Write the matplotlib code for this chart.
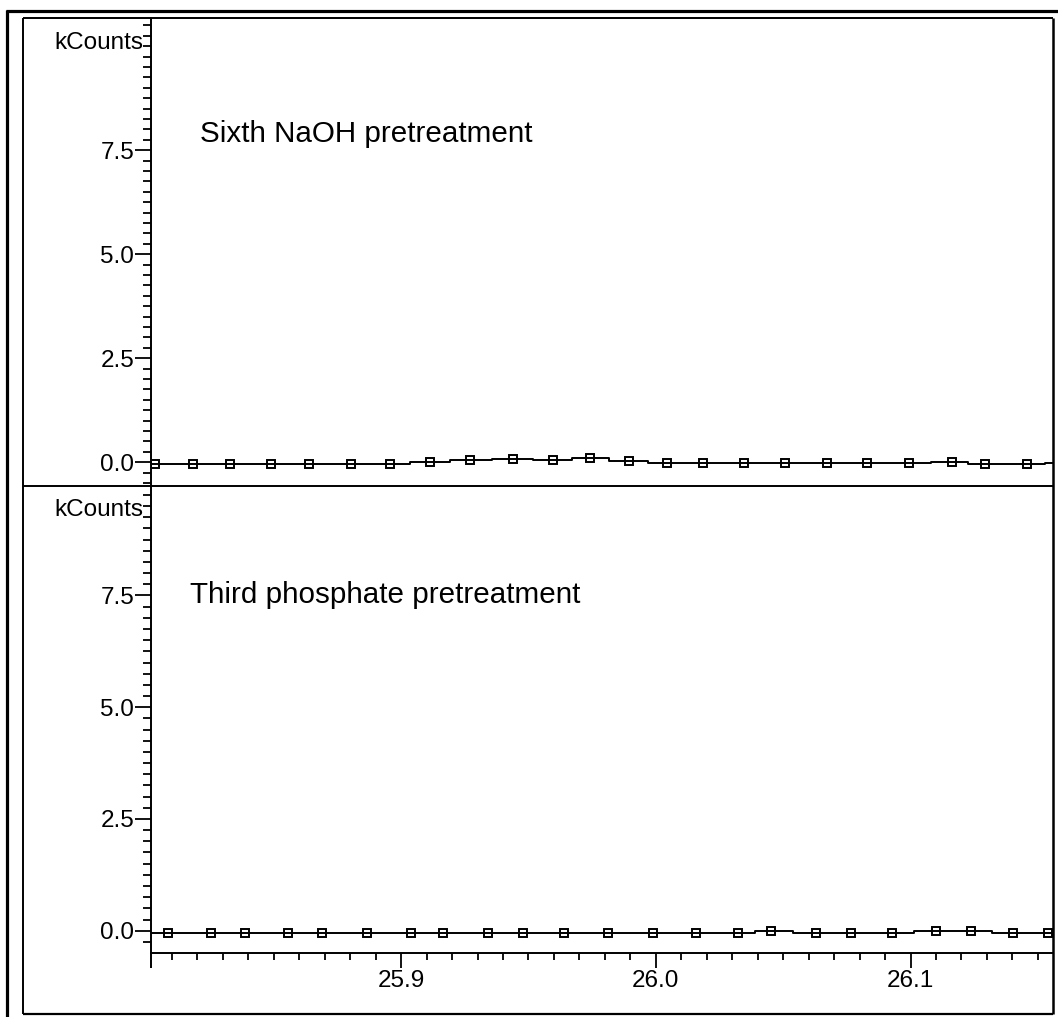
import matplotlib
matplotlib.use('Agg')
import matplotlib.pyplot as plt
from matplotlib.lines import Line2D
from matplotlib.ticker import MultipleLocator, FixedLocator

plt.rcParams['font.family'] = ['Liberation Sans', 'DejaVu Sans']

W, H = 1058, 1017  # output size in px (dpi 100)

# retention time (min) / signal (kCounts); first and last points lie just outside the window
naoh_time = [25.795, 25.8033, 25.8183, 25.8327, 25.8490, 25.8640, 25.8804, 25.8957, 25.9115,
             25.9271, 25.9440, 25.9597, 25.9741, 25.9893, 26.0043, 26.0187, 26.0346,
             26.0507, 26.0671, 26.0831, 26.0996, 26.1163, 26.1291, 26.1459, 26.16]
naoh_counts = [-0.04, -0.04, -0.04, -0.04, -0.04, -0.04, -0.04, -0.04, 0.0,
               0.05, 0.09, 0.05, 0.10, 0.04, -0.01, -0.01, -0.01,
               -0.01, -0.01, -0.01, -0.01, -0.005, -0.05, -0.05, -0.01]

phos_time = [25.795, 25.8084, 25.8252, 25.8388, 25.8555, 25.8690, 25.8865, 25.9039, 25.9166,
             25.9340, 25.9477, 25.9640, 25.9813, 25.9989, 26.0157, 26.0324, 26.0451,
             26.0627, 26.0765, 26.0928, 26.1100, 26.1239, 26.1402, 26.1540, 26.165]
phos_counts = [-0.045, -0.045, -0.045, -0.045, -0.045, -0.045, -0.045, -0.045, -0.045,
               -0.045, -0.045, -0.045, -0.045, -0.045, -0.045, -0.045, 0.0,
               -0.045, -0.045, -0.045, 0.0, 0.0, -0.045, -0.045, -0.045]

ytick_vals = [0.0, 2.5, 5.0, 7.5]
ytick_labels = ['0.0', '2.5', '5.0', '7.5']
xtick_vals = [25.9, 26.0, 26.1]
xtick_labels = ['25.9', '26.0', '26.1']

XLIM = (25.80179, 26.15595)
YLIM_TOP = (-0.570, 10.68)
YLIM_BOT = (-0.499, 9.949)


def fx(px):
    return px / W


def fy(py):
    return 1 - py / H


fig = plt.figure(figsize=(W / 100, H / 100), dpi=100)

L, R = 151, 1053
ax_top = fig.add_axes([fx(L), fy(486), (R - L) / W, (486 - 18) / H])
ax_bot = fig.add_axes([fx(L), fy(953), (R - L) / W, (953 - 486) / H])

panels = [(ax_top, naoh_time, naoh_counts, YLIM_TOP),
          (ax_bot, phos_time, phos_counts, YLIM_BOT)]

for ax, t, c, ylim in panels:
    ax.plot(t, c, color='black', lw=1.4, drawstyle='steps-mid')
    ax.plot(t, c, ls='none', marker='s', ms=6.2, mfc='none', mec='black', mew=1.4,
            markevery=slice(1, -1))
    ax.set_xlim(*XLIM)
    ax.set_ylim(*ylim)
    for s in ('top', 'right', 'bottom'):
        ax.spines[s].set_visible(False)
    ax.spines['left'].set_linewidth(1.4)
    ax.yaxis.set_major_locator(FixedLocator(ytick_vals))
    ax.set_yticklabels(ytick_labels)
    ax.yaxis.set_minor_locator(MultipleLocator(0.25))
    ax.tick_params(axis='y', which='major', length=11.5, width=1.3, pad=0.5, labelsize=17.5)
    ax.tick_params(axis='y', which='minor', length=5.8, width=1.3)
    ax.patch.set_visible(False)

ax_top.tick_params(axis='x', which='both', bottom=False, labelbottom=False)

ax_bot.spines['bottom'].set_visible(True)
ax_bot.spines['bottom'].set_linewidth(1.4)
ax_bot.set_xticks(xtick_vals)
ax_bot.set_xticklabels(xtick_labels)
ax_bot.xaxis.set_minor_locator(MultipleLocator(0.01))
ax_bot.tick_params(axis='x', which='major', length=11, width=1.3, pad=1, labelsize=17.5)
ax_bot.tick_params(axis='x', which='minor', length=5, width=1.3)

# axis unit labels and panel titles
fig.text(fx(143), fy(43), 'kCounts', ha='right', va='center', fontsize=17.5)
fig.text(fx(143), fy(510), 'kCounts', ha='right', va='center', fontsize=17.5)
fig.text(fx(200), fy(142), 'Sixth NaOH pretreatment', va='baseline', fontsize=21.3)
fig.text(fx(190), fy(603), 'Third phosphate pretreatment', va='baseline', fontsize=21.3)

# window frame
def fline(x0, y0, x1, y1, lw):
    fig.add_artist(Line2D([fx(x0), fx(x1)], [fy(y0), fy(y1)], color='black', lw=lw,
                          transform=fig.transFigure, solid_capstyle='butt'))

fline(23, 18, 1053, 18, 1.4)
fline(23, 18, 23, 1014, 1.4)
fline(23, 1014, 1053, 1014, 1.6)
fline(1053, 18, 1053, 1014, 1.8)
fline(6.5, 10, 6.5, 1017, 2.3)
fline(6, 10.5, 1058, 10.5, 2.3)
fline(23, 486, 1053, 486, 1.4)
fline(151, 953, 151, 968, 1.4)

fig.savefig('out.png', dpi=100, facecolor='white')
